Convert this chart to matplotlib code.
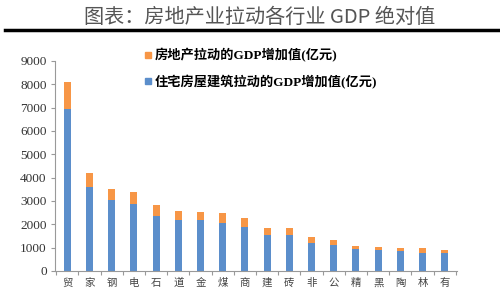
import matplotlib
matplotlib.use("Agg")
import matplotlib.pyplot as plt
from matplotlib.lines import Line2D

plt.rcParams['font.family'] = ['Liberation Serif', 'Noto Sans CJK SC', 'DejaVu Sans']

categories = ["贸", "家", "钢", "电", "石", "道", "金", "煤", "商",
              "建", "砖", "非", "公", "精", "黑", "陶", "林", "有"]
total = [8100, 4200, 3500, 3390, 2810, 2580, 2510, 2480, 2250,
         1850, 1850, 1450, 1320, 1080, 1030, 990, 990, 890]
housing = [6950, 3600, 3030, 2890, 2360, 2180, 2180, 2060, 1890,
           1530, 1530, 1180, 1100, 930, 890, 850, 750, 770]
extra = [t - h for t, h in zip(total, housing)]

blue = "#5B8ECB"
orange = "#F79646"

fig = plt.figure(figsize=(5, 2.89), dpi=100)
ax = fig.add_axes([0.11, 0.0623, 0.804, 0.727])

x = range(len(categories))
ax.bar(x, housing, width=0.32, color=blue, zorder=2)
ax.bar(x, extra, width=0.32, bottom=housing, color=orange, zorder=2)

ax.set_xlim(-0.55, 17.55)
ax.set_ylim(0, 9000)
ax.set_yticks(range(0, 9001, 1000))
ax.tick_params(axis='y', labelsize=9.5, length=3, color="#999999", labelcolor="#333333", pad=3)
ax.set_xticks([i - 0.5 for i in range(len(categories) + 1)])
ax.set_xticklabels([])
ax.set_xticks(list(x), minor=True)
ax.set_xticklabels(categories, minor=True, fontsize=7.5, color="#444444",
                   family=['Noto Sans CJK SC'])
ax.tick_params(axis='x', which='major', length=3, color="#999999")
ax.tick_params(axis='x', which='minor', length=0, pad=5)
for side in ("top", "right"):
    ax.spines[side].set_visible(False)
for side in ("left", "bottom"):
    ax.spines[side].set_color("#999999")
    ax.spines[side].set_linewidth(0.8)

handles = [
    Line2D([], [], marker='s', linestyle='none', color=orange, markersize=5),
    Line2D([], [], marker='s', linestyle='none', color=blue, markersize=5),
]
labels = ["房地产拉动的GDP增加值(亿元)", "住宅房屋建筑拉动的GDP增加值(亿元)"]
leg = fig.legend(handles, labels, loc="upper left", bbox_to_anchor=(0.262, 0.875),
                 frameon=False, handletextpad=0.1, handlelength=0.8,
                 labelspacing=0.95, prop={'family': ['Liberation Serif', 'Noto Sans CJK SC'],
                                          'size': 9.5, 'weight': 'bold'})

fig.text(0.52, 0.94, "图表：房地产业拉动各行业 GDP 绝对值", ha="center", va="center",
         fontsize=14.5, color="#555555", family=['Noto Sans CJK SC'])
fig.add_artist(Line2D([0.01, 1.0], [0.895, 0.895], color="black", linewidth=2.5,
                      transform=fig.transFigure))

fig.savefig("out.png", dpi=100)
